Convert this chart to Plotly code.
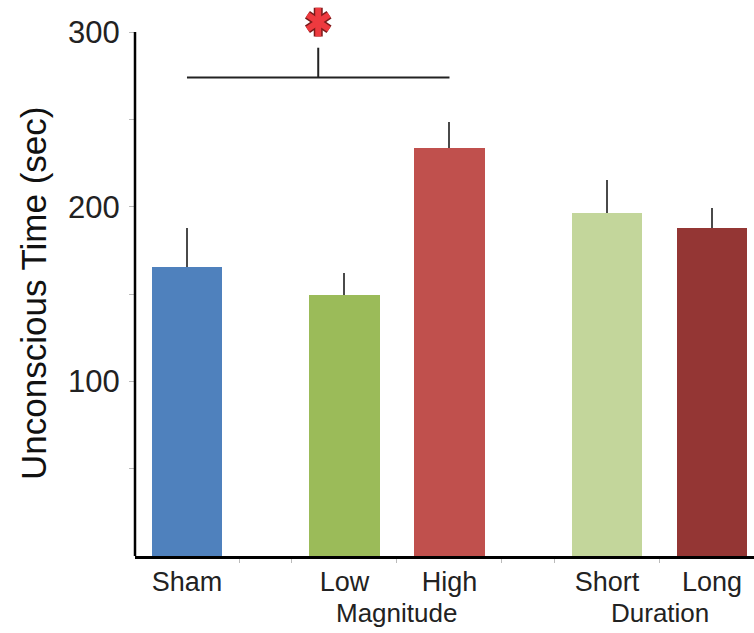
import plotly.graph_objects as go

categories = ["Sham", "Low", "High", "Short", "Long"]
positions = [0, 1.5, 2.5, 4, 5]
values = [165.6, 149.5, 233.4, 196.5, 187.6]
errors = [22.0, 12.5, 15.0, 18.7, 11.8]
colors = ["#4F81BD", "#9BBB59", "#C0504D", "#C3D69B", "#943634"]
group_labels = ["Magnitude", "Duration"]
group_positions = [2.0, 4.5]
y_ticks = [100, 200, 300]
y_minor = [50, 150, 250]
x_minor = [0.5, 1, 2, 3, 3.5, 4.5]
y_axis_max = 300
y_title = "Unconscious Time (sec)"
bracket_y = 274
bracket_top = 291
star_y = 305.7

FONT = "Liberation Sans, Arial, sans-serif"
PLOT_TOP_PX = 32   # pixel row of the 300 tick in the reference
PLOT_BOTTOM_PX = 556
y_range_top = y_axis_max * PLOT_BOTTOM_PX / (PLOT_BOTTOM_PX - PLOT_TOP_PX)

fig = go.Figure()
fig.add_trace(go.Bar(
    x=positions, y=values, width=0.667,
    marker=dict(color=colors, line=dict(width=0)),
    error_y=dict(type="data", array=errors, arrayminus=[0]*len(errors),
                 symmetric=False, thickness=2, width=0, color="#4a4a4a"),
    showlegend=False,
))

# y axis line (drawn only from 0 to 300)
fig.add_shape(type="line", xref="paper", yref="y", x0=0, x1=0, y0=0, y1=y_axis_max,
              line=dict(color="black", width=2.5))

# significance bracket
fig.add_shape(type="line", x0=positions[0], x1=positions[2], y0=bracket_y, y1=bracket_y,
              xref="x", yref="y", line=dict(color="#222", width=2))
mid = (positions[0] + positions[2]) / 2
fig.add_shape(type="line", x0=mid, x1=mid, y0=bracket_y, y1=bracket_top,
              xref="x", yref="y", line=dict(color="#222", width=2))

# asterisk: outlined 6-arm star built from two "y" marker symbols
for lw, col in [(9, "#7a1a1a"), (6, "#EE3A3F")]:
    fig.add_trace(go.Scatter(
        x=[mid, mid], y=[star_y, star_y], mode="markers",
        marker=dict(symbol=["y-up", "y-down"], size=18, color=col,
                    line=dict(width=lw, color=col)),
        showlegend=False, hoverinfo="skip",
    ))

for lbl, pos in zip(group_labels, group_positions):
    fig.add_annotation(x=pos, y=0, xref="x", yref="paper", yanchor="middle", yshift=-57,
                       text=lbl, showarrow=False,
                       font=dict(family=FONT, size=26, color="#222"))

# y axis title, centred on the 0-300 span
fig.add_annotation(x=0, y=y_axis_max / 2, xref="paper", yref="y", xanchor="center",
                   yanchor="middle", xshift=-102, textangle=-90, text=y_title,
                   showarrow=False, font=dict(family=FONT, size=35, color="#111"))

fig.update_layout(
    width=754, height=633,
    margin=dict(l=135, r=0, t=0, b=77),
    plot_bgcolor="white", paper_bgcolor="white",
    bargap=0,
    xaxis=dict(range=[-0.495, 5.4], tickvals=positions, ticktext=categories,
               showline=True, linecolor="black", linewidth=2.5, ticks="",
               showgrid=False, zeroline=False,
               tickfont=dict(family=FONT, size=27, color="#222"),
               minor=dict(tickvals=x_minor, ticks="outside", ticklen=4,
                          tickcolor="#bbbbbb", tickwidth=1, showgrid=False)),
    yaxis=dict(range=[0, y_range_top], tickvals=y_ticks, showline=False,
               ticks="outside", ticklen=5, tickcolor="#bbbbbb",
               tickwidth=1, showgrid=False, zeroline=False, ticklabelstandoff=3,
               tickfont=dict(family=FONT, size=31, color="#222"),
               minor=dict(tickvals=y_minor, ticks="outside", ticklen=5,
                          tickcolor="#bbbbbb", tickwidth=1, showgrid=False)),
)

fig.write_html("out.html")
